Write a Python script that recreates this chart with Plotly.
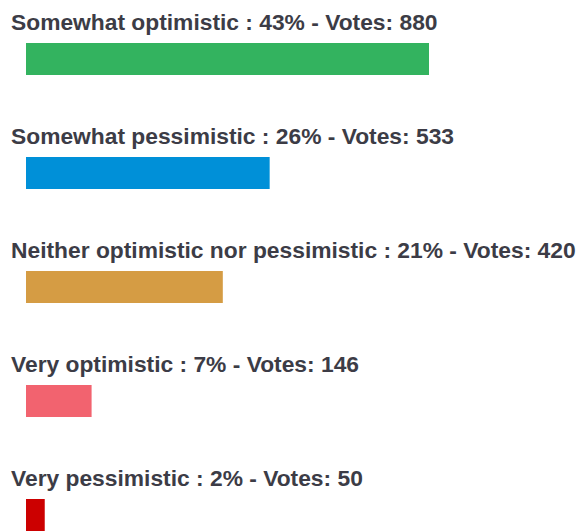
import plotly.graph_objects as go

labels = ["Somewhat optimistic", "Somewhat pessimistic", "Neither optimistic nor pessimistic",
          "Very optimistic", "Very pessimistic"]
percents = [43, 26, 21, 7, 2]
votes = [880, 533, 420, 146, 50]
colors = ["#33b35f", "#0090d8", "#d59c44", "#f2636f", "#cc0000"]

W, H = 577, 532
x0_px, px_per_pct = 26, 403 / 43
pitch, center0, bar_h = 114, 59, 32

idx = list(range(len(labels)))
fig = go.Figure()
fig.add_trace(go.Bar(
    x=percents, y=idx, orientation="h", marker=dict(color=colors, line=dict(width=0)),
    width=bar_h / pitch, hoverinfo="skip", showlegend=False,
))

for i, (lab, p, v) in enumerate(zip(labels, percents, votes)):
    fig.add_annotation(
        x=9 / W, xref="paper", xanchor="left",
        y=i - 37.5 / pitch, yref="y", yanchor="middle",
        text=f"<b>{lab} : {p}% - Votes: {v}</b>", showarrow=False,
        font=dict(family="Liberation Sans, Arial", size=22.8, color="#3c3c46"),
    )

fig.update_xaxes(range=[-x0_px / px_per_pct, (W - x0_px) / px_per_pct], visible=False, fixedrange=True)
fig.update_yaxes(range=[(H - center0) / pitch, -center0 / pitch], visible=False, fixedrange=True)
fig.update_layout(
    width=W, height=H, margin=dict(l=0, r=0, t=0, b=0),
    paper_bgcolor="white", plot_bgcolor="white",
)
fig.write_html("out.html")
